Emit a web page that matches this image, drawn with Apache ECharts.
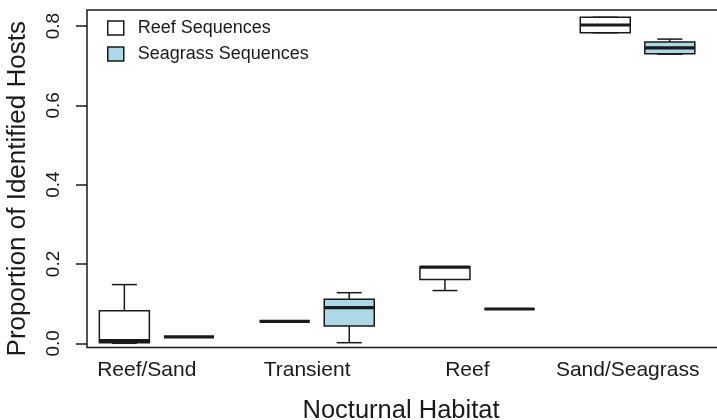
<!DOCTYPE html>
<html>
<head>
<meta charset="utf-8">
<script src="https://cdn.jsdelivr.net/npm/echarts@6/dist/echarts.min.js"></script>
<style>
  html, body { margin: 0; padding: 0; background: #fff; }
  #main { width: 717px; height: 420px; }
</style>
</head>
<body>
<div id="main"></div>
<script>
// habitats on the x axis
var categories = ['Reef/Sand', 'Transient', 'Reef', 'Sand/Seagrass'];
var seriesNames = ['Reef Sequences', 'Seagrass Sequences'];

// box stats per habitat: [min, q1, median, q3, max]
var reefStats = [
	[0.0, 0.0015, 0.0066, 0.082, 0.148],
	[0.0555, 0.0555, 0.0555, 0.0555, 0.0555],
	[0.133, 0.161, 0.192, 0.193, 0.193],
	[0.783, 0.783, 0.8026, 0.822, 0.822]
];
var seagrassStats = [
	[0.016, 0.016, 0.016, 0.016, 0.016],
	[0.0015, 0.0436, 0.090, 0.111, 0.1276],
	[0.0865, 0.0865, 0.0865, 0.0865, 0.0865],
	[0.729, 0.730, 0.745, 0.760, 0.767]
];
// y tick labels
var yTicks = [0, 0.2, 0.4, 0.6, 0.8];
var yTickStep = 0.2;

var FONT = '"Liberation Sans", Arial, Helvetica, sans-serif';
var INK = '#1a1a1a';
var BOX_W = 0.312;   // box width in axis units

function toData(stats) {
	return stats.map(function (s, i) {
		return [i].concat(s);
	});
}

function makeRender(offset, fill) {
	return function (params, api) {
		var x = api.value(0) + offset;
		var pMin = api.coord([x, api.value(1)]);
		var pQ1 = api.coord([x, api.value(2)]);
		var pMed = api.coord([x, api.value(3)]);
		var pQ3 = api.coord([x, api.value(4)]);
		var pMax = api.coord([x, api.value(5)]);
		var half = api.size([BOX_W, 0])[0] / 2;
		var cx = pMed[0];
		var ln = { stroke: INK, lineWidth: 1.5 };
		return {
			type: 'group',
			children: [
				{ type: 'line', shape: { x1: cx, y1: pQ3[1], x2: cx, y2: pMax[1] }, style: ln },
				{ type: 'line', shape: { x1: cx - half / 2, y1: pMax[1], x2: cx + half / 2, y2: pMax[1] }, style: ln },
				{ type: 'line', shape: { x1: cx, y1: pQ1[1], x2: cx, y2: pMin[1] }, style: ln },
				{ type: 'line', shape: { x1: cx - half / 2, y1: pMin[1], x2: cx + half / 2, y2: pMin[1] }, style: ln },
				{
					type: 'rect',
					shape: { x: cx - half, y: pQ3[1], width: half * 2, height: pQ1[1] - pQ3[1] },
					style: { fill: fill, stroke: INK, lineWidth: 1.5 }
				},
				{ type: 'line', shape: { x1: cx - half, y1: pMed[1], x2: cx + half, y2: pMed[1] }, style: { stroke: INK, lineWidth: 3.2 } }
			]
		};
	};
}

var myChart = echarts.init(document.getElementById('main'));
var option = {
	backgroundColor: '#fff',
	animation: false,
	grid: [
		{
			left: 87, right: -20, top: 10, bottom: 72.5,
			outerBoundsMode: 'none',
			show: true, borderColor: INK, borderWidth: 1.5, backgroundColor: 'transparent'
		},
		// narrow strip left of the frame: its split lines are the y ticks
		{ left: 76, right: 630, top: 26, bottom: 76.7, outerBoundsMode: 'none' }
	],
	legend: {
		orient: 'vertical',
		left: 107, top: 19,
		padding: 0,
		itemWidth: 16, itemHeight: 14, itemGap: 8,
		selectedMode: false,
		icon: 'rect',
		textStyle: { fontFamily: FONT, fontSize: 18, lineHeight: 18, color: INK, padding: [0, 0, 0, 9] },
		data: [
			{ name: seriesNames[0], itemStyle: { color: '#ffffff', borderColor: INK, borderWidth: 1.5 } },
			{ name: seriesNames[1], itemStyle: { color: '#add8e6', borderColor: INK, borderWidth: 1.5 } }
		]
	},
	xAxis: [
		{
			type: 'value',
			gridIndex: 0,
			min: -0.373, max: 3.682,
			splitLine: { show: false },
			axisLine: { show: false, onZero: false },
			axisTick: { show: false },
			axisLabel: {
				customValues: [0, 1, 2, 3],
				margin: 12,
				fontFamily: FONT, fontSize: 21, color: INK,
				formatter: function (v) { return categories[Math.round(v)]; }
			},
			name: 'Nocturnal Habitat',
			nameLocation: 'middle',
			nameGap: 50,
			nameTextStyle: { fontFamily: FONT, fontSize: 25.5, color: INK, padding: [0, 22, 0, 0] }
		},
		{
			type: 'value', gridIndex: 1, min: 0, max: 1,
			axisLine: { show: false }, axisTick: { show: false }, axisLabel: { show: false },
			splitLine: { show: false }
		}
	],
	yAxis: [
		{
			type: 'value',
			gridIndex: 0,
			min: -0.0106, max: 0.8404,
			splitLine: { show: false },
			axisLine: { show: false, onZero: false },
			axisTick: { show: false },
			axisLabel: {
				customValues: yTicks,
				rotate: 90,
				margin: 24,
				fontFamily: FONT, fontSize: 19, color: INK,
				formatter: function (v) { return v.toFixed(1); }
			},
			name: 'Proportion of Identified Hosts',
			nameLocation: 'middle',
			nameGap: 56,
			nameTextStyle: { fontFamily: FONT, fontSize: 26, color: INK, padding: [0, 20, 0, 0] }
		},
		{
			type: 'value',
			gridIndex: 1,
			min: yTicks[0], max: yTicks[yTicks.length - 1], interval: yTickStep,
			axisLine: { show: false }, axisTick: { show: false }, axisLabel: { show: false },
			splitLine: { show: true, lineStyle: { color: INK, width: 1.5 } }
		}
	],
	series: [
		{
			name: seriesNames[0],
			type: 'custom',
			xAxisIndex: 0, yAxisIndex: 0,
			itemStyle: { color: '#ffffff', borderColor: INK },
			renderItem: makeRender(-0.14, '#ffffff'),
			encode: { x: 0, y: [1, 2, 3, 4, 5] },
			data: toData(reefStats)
		},
		{
			name: seriesNames[1],
			type: 'custom',
			xAxisIndex: 0, yAxisIndex: 0,
			itemStyle: { color: '#add8e6', borderColor: INK },
			renderItem: makeRender(0.263, '#add8e6'),
			encode: { x: 0, y: [1, 2, 3, 4, 5] },
			data: toData(seagrassStats)
		}
	]
};
myChart.setOption(option);
</script>
</body>
</html>
